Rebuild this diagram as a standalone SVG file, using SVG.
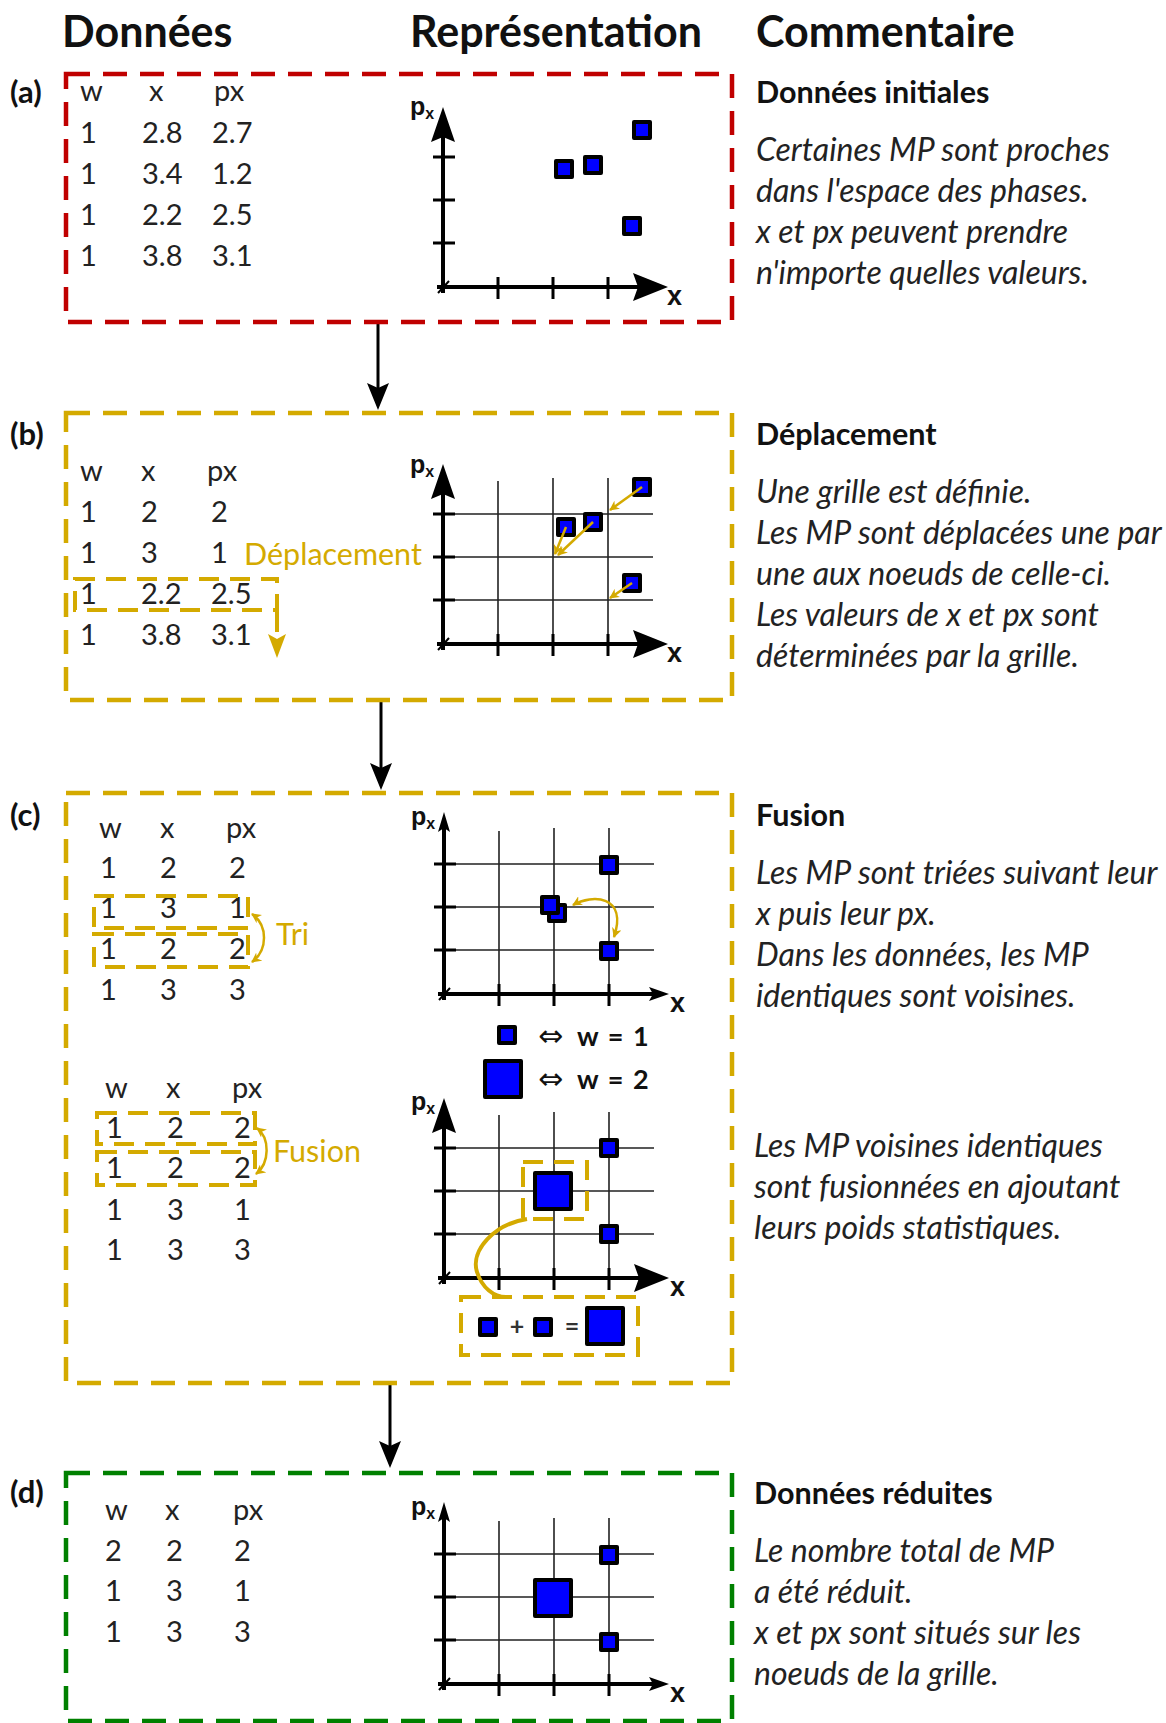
<svg xmlns="http://www.w3.org/2000/svg" xmlns:xlink="http://www.w3.org/1999/xlink" width="1166" height="1723" viewBox="0 0 1166 1723">
<style>
.title{font-family:Lato,"Liberation Sans",sans-serif;font-weight:bold;font-size:43px;fill:#111}
.lab{font-family:Lato,"Liberation Sans",sans-serif;font-weight:bold;font-size:31px;fill:#111}
.tbl{font-family:Lato,"Liberation Sans",sans-serif;font-size:29px;fill:#222}
.hdr{font-family:Lato,"Liberation Sans",sans-serif;font-weight:bold;font-size:30.5px;fill:#111}
.it{font-family:Lato,"Liberation Sans",sans-serif;font-style:italic;font-size:32px;fill:#222}
.ylab{font-family:Lato,"Liberation Sans",sans-serif;font-size:30.5px;fill:#d4aa00}
.ax{font-family:"Liberation Sans",Arial,sans-serif;font-weight:bold;fill:#111}
.leg{font-family:Lato,"Liberation Sans",sans-serif;font-weight:bold;font-size:27px;fill:#111;word-spacing:3px}
.arr{font-family:"DejaVu Sans",sans-serif;font-size:30px;fill:#111}
.op{font-family:Lato,"Liberation Sans",sans-serif;font-weight:bold;font-size:25px;fill:#333}
.box{fill:none;stroke-width:4.5;stroke-dasharray:24 13}
.ybox{fill:none;stroke:#d4aa00;stroke-width:4;stroke-dasharray:20 11}
.mp{fill:#0000ff;stroke:#000;stroke-width:4;stroke-linejoin:round}
.axis{stroke:#000;stroke-width:4;fill:none}
.tick{stroke:#000;stroke-width:3}
.grid{stroke:#222;stroke-width:1.6;fill:none}
.yarr{stroke:#d4aa00;stroke-width:2.5;fill:none}
.conn{stroke:#000;stroke-width:3}
</style>
<defs>
<marker id="yh" viewBox="0 0 10 10" refX="9" refY="5" markerWidth="10" markerHeight="10" markerUnits="userSpaceOnUse" orient="auto-start-reverse">
<path d="M0,0 L10,5 L0,10 L3,5 Z" fill="#d4aa00"/>
</marker>
<g id="axesBig">
<line class="axis" x1="0" y1="6" x2="0" y2="-150"/>
<path d="M0,-180 L-12,-145 L0,-150 L12,-145 Z" fill="#000"/>
<line class="axis" x1="-6" y1="0" x2="195" y2="0"/>
<path d="M225,0 L190,-14 L195,0 L190,14 Z" fill="#000"/>
<line x1="-5" y1="6" x2="6" y2="-6" stroke="#000" stroke-width="2"/>
<path class="tick" d="M-10,-130H12M-10,-87H12M-10,-44H12M55,-10V12M110,-10V12M165,-10V12"/>
</g>
<g id="axesThin">
<line class="axis" x1="0" y1="6" x2="0" y2="-166"/>
<path d="M0,-182 L-6,-162 L0,-166 L6,-162 Z" fill="#000"/>
<line class="axis" x1="-6" y1="0" x2="210" y2="0"/>
<path d="M225,0 L205,-7 L209,0 L205,7 Z" fill="#000"/>
<line x1="-5" y1="6" x2="6" y2="-6" stroke="#000" stroke-width="2"/>
<path class="tick" d="M-10,-130H12M-10,-87H12M-10,-44H12M55,-10V12M110,-10V12M165,-10V12"/>
</g>
<path id="grid" class="grid" d="M-10,-130H210M-10,-87H210M-10,-44H210M55,-163V12M110,-166V12M165,-166V12"/>
<polygon id="ah" points="0,0 -11,-27 0,-22 11,-27" fill="#000"/>
</defs>

<g id="titles">
<text class="title" x="62" y="47">Données</text>
<text class="title" x="410" y="47">Représentation</text>
<text class="title" x="756" y="47">Commentaire</text>
</g>

<g id="connectors">
<line class="conn" x1="378" y1="322" x2="378" y2="390"/>
<use xlink:href="#ah" href="#ah" transform="translate(378,410)"/>
<line class="conn" x1="381" y1="700" x2="381" y2="770"/>
<use xlink:href="#ah" href="#ah" transform="translate(381,790)"/>
<line class="conn" x1="390" y1="1383" x2="390" y2="1448"/>
<use xlink:href="#ah" href="#ah" transform="translate(390,1468)"/>
</g>

<!-- (a) -->
<g id="node-a">
<rect class="box" x="66" y="74" width="666" height="248" stroke="#c00000"/>
<text class="lab" x="10" y="103">(a)</text>
<g class="tbl">
<text x="80" y="101">w</text><text x="149" y="101">x</text><text x="214" y="101">px</text>
<text x="80" y="143">1</text><text x="142" y="143">2.8</text><text x="212" y="143">2.7</text>
<text x="80" y="184">1</text><text x="142" y="184">3.4</text><text x="212" y="184">1.2</text>
<text x="80" y="225">1</text><text x="142" y="225">2.2</text><text x="212" y="225">2.5</text>
<text x="80" y="266">1</text><text x="142" y="266">3.8</text><text x="212" y="266">3.1</text>
</g>
<use xlink:href="#axesBig" href="#axesBig" transform="translate(443,287)"/>
<text class="ax" x="410" y="115" font-size="25">p<tspan font-size="16" dy="4">x</tspan></text>
<text class="ax" x="667" y="305" font-size="27">x</text>
<rect class="mp" x="634" y="122" width="16" height="16"/>
<rect class="mp" x="556" y="161" width="16" height="16"/>
<rect class="mp" x="585" y="157" width="16" height="16"/>
<rect class="mp" x="624" y="218" width="16" height="16"/>
<text class="hdr" x="756" y="103">Données initiales</text>
<text class="it" x="756" y="161">Certaines MP sont proches</text>
<text class="it" x="756" y="202">dans l'espace des phases.</text>
<text class="it" x="756" y="243">x et px peuvent prendre</text>
<text class="it" x="756" y="284">n'importe quelles valeurs.</text>
</g>

<!-- (b) -->
<g id="node-b">
<rect class="box" x="66" y="413" width="666" height="287" stroke="#d4aa00"/>
<text class="lab" x="10" y="445">(b)</text>
<g class="tbl">
<text x="80" y="481">w</text><text x="141" y="481">x</text><text x="207" y="481">px</text>
<text x="80" y="522">1</text><text x="141" y="522">2</text><text x="211" y="522">2</text>
<text x="80" y="563">1</text><text x="141" y="563">3</text><text x="211" y="563">1</text>
<text x="80" y="604">1</text><text x="141" y="604">2.2</text><text x="211" y="604">2.5</text>
<text x="80" y="645">1</text><text x="141" y="645">3.8</text><text x="211" y="645">3.1</text>
</g>
<text class="ylab" x="244" y="565">Déplacement</text>
<rect class="ybox" x="75" y="579" width="202" height="31"/>
<line x1="277" y1="612" x2="277" y2="640" stroke="#d4aa00" stroke-width="4" stroke-dasharray="20 11"/>
<path d="M277,658 L268,634 L277,639 L286,634 Z" fill="#d4aa00"/>
<use xlink:href="#grid" href="#grid" transform="translate(443,644)"/>
<use xlink:href="#axesBig" href="#axesBig" transform="translate(443,644)"/>
<text class="ax" x="410" y="473" font-size="25">p<tspan font-size="16" dy="4">x</tspan></text>
<text class="ax" x="667" y="662" font-size="27">x</text>
<rect class="mp" x="634" y="479" width="16" height="16"/>
<rect class="mp" x="558" y="519" width="16" height="16"/>
<rect class="mp" x="585" y="514" width="16" height="16"/>
<rect class="mp" x="624" y="575" width="16" height="16"/>
<line class="yarr" x1="642" y1="487" x2="610" y2="510" marker-end="url(#yh)"/>
<line class="yarr" x1="566" y1="527" x2="555" y2="554" marker-end="url(#yh)"/>
<line class="yarr" x1="593" y1="522" x2="558" y2="555" marker-end="url(#yh)"/>
<line class="yarr" x1="632" y1="583" x2="610" y2="598" marker-end="url(#yh)"/>
<text class="hdr" x="756" y="445">Déplacement</text>
<text class="it" x="756" y="503">Une grille est définie.</text>
<text class="it" x="756" y="544">Les MP sont déplacées une par</text>
<text class="it" x="756" y="585">une aux noeuds de celle-ci.</text>
<text class="it" x="756" y="626">Les valeurs de x et px sont</text>
<text class="it" x="756" y="667">déterminées par la grille.</text>
</g>

<!-- (c) -->
<g id="node-c">
<rect class="box" x="66" y="793" width="666" height="590" stroke="#d4aa00"/>
<text class="lab" x="10" y="826">(c)</text>
<g class="tbl">
<text x="99" y="838">w</text><text x="160" y="838">x</text><text x="226" y="838">px</text>
<text x="100" y="878">1</text><text x="160" y="878">2</text><text x="229" y="878">2</text>
<text x="100" y="918">1</text><text x="160" y="918">3</text><text x="229" y="918">1</text>
<text x="100" y="959">1</text><text x="160" y="959">2</text><text x="229" y="959">2</text>
<text x="100" y="1000">1</text><text x="160" y="1000">3</text><text x="229" y="1000">3</text>
</g>
<rect class="ybox" x="94" y="896" width="154" height="32"/>
<rect class="ybox" x="94" y="934" width="154" height="33"/>
<path class="yarr" d="M252,914 C268,925 268,950 252,962" marker-start="url(#yh)" marker-end="url(#yh)"/>
<text class="ylab" x="276" y="945">Tri</text>

<use xlink:href="#grid" href="#grid" transform="translate(444,994)"/>
<use xlink:href="#axesThin" href="#axesThin" transform="translate(444,994)"/>
<text class="ax" x="411" y="825" font-size="25">p<tspan font-size="16" dy="4">x</tspan></text>
<text class="ax" x="670" y="1012" font-size="27">x</text>
<rect class="mp" x="601" y="857" width="16" height="16"/>
<rect class="mp" x="601" y="943" width="16" height="16"/>
<rect class="mp" x="549" y="905" width="16" height="16"/>
<rect class="mp" x="542" y="897" width="16" height="16"/>
<path class="yarr" d="M573,905 C592,894 628,895 614,937" marker-start="url(#yh)" marker-end="url(#yh)"/>

<rect class="mp" x="499" y="1027" width="16" height="16"/>
<text class="arr" x="538" y="1046">⇔</text>
<text class="leg" x="577" y="1046">w = 1</text>
<rect class="mp" x="485" y="1061" width="36" height="36"/>
<text class="arr" x="538" y="1089">⇔</text>
<text class="leg" x="577" y="1089">w = 2</text>

<g class="tbl">
<text x="105" y="1098">w</text><text x="166" y="1098">x</text><text x="232" y="1098">px</text>
<text x="106" y="1138">1</text><text x="167" y="1138">2</text><text x="234" y="1138">2</text>
<text x="106" y="1178">1</text><text x="167" y="1178">2</text><text x="234" y="1178">2</text>
<text x="106" y="1220">1</text><text x="167" y="1220">3</text><text x="234" y="1220">1</text>
<text x="106" y="1260">1</text><text x="167" y="1260">3</text><text x="234" y="1260">3</text>
</g>
<rect class="ybox" x="97" y="1113" width="158" height="31"/>
<rect class="ybox" x="97" y="1152" width="158" height="33"/>
<path class="yarr" d="M257,1128 C270,1138 270,1163 256,1174" marker-start="url(#yh)" marker-end="url(#yh)"/>
<text class="ylab" x="273" y="1162">Fusion</text>

<use xlink:href="#grid" href="#grid" transform="translate(444,1278)"/>
<use xlink:href="#axesBig" href="#axesBig" transform="translate(444,1278)"/>
<text class="ax" x="411" y="1110" font-size="25">p<tspan font-size="16" dy="4">x</tspan></text>
<text class="ax" x="670" y="1296" font-size="27">x</text>
<rect class="mp" x="601" y="1140" width="16" height="16"/>
<rect class="mp" x="601" y="1226" width="16" height="16"/>
<rect class="mp" x="535" y="1173" width="36" height="36"/>
<rect class="ybox" x="523" y="1162" width="64" height="57"/>
<path d="M527,1219 C495,1224 470,1250 477,1272 C482,1288 494,1297 506,1297" fill="none" stroke="#d4aa00" stroke-width="4"/>
<rect class="ybox" x="461" y="1297" width="177" height="58"/>
<rect class="mp" x="480" y="1319" width="16" height="16"/>
<text class="op" x="517" y="1335" text-anchor="middle">+</text>
<rect class="mp" x="535" y="1319" width="16" height="16"/>
<text class="op" x="572" y="1335" text-anchor="middle">=</text>
<rect class="mp" x="587" y="1308" width="36" height="36"/>

<text class="hdr" x="756" y="826">Fusion</text>
<text class="it" x="756" y="884">Les MP sont triées suivant leur</text>
<text class="it" x="756" y="925">x puis leur px.</text>
<text class="it" x="756" y="966">Dans les données, les MP</text>
<text class="it" x="756" y="1007">identiques sont voisines.</text>
<text class="it" x="754" y="1157">Les MP voisines identiques</text>
<text class="it" x="754" y="1198">sont fusionnées en ajoutant</text>
<text class="it" x="754" y="1239">leurs poids statistiques.</text>
</g>

<!-- (d) -->
<g id="node-d">
<rect class="box" x="66" y="1473" width="666" height="248" stroke="#008000"/>
<text class="lab" x="10" y="1503">(d)</text>
<g class="tbl">
<text x="105" y="1520">w</text><text x="165" y="1520">x</text><text x="233" y="1520">px</text>
<text x="105" y="1561">2</text><text x="166" y="1561">2</text><text x="234" y="1561">2</text>
<text x="105" y="1601">1</text><text x="166" y="1601">3</text><text x="234" y="1601">1</text>
<text x="105" y="1642">1</text><text x="166" y="1642">3</text><text x="234" y="1642">3</text>
</g>
<use xlink:href="#grid" href="#grid" transform="translate(444,1684)"/>
<use xlink:href="#axesThin" href="#axesThin" transform="translate(444,1684)"/>
<text class="ax" x="411" y="1515" font-size="25">p<tspan font-size="16" dy="4">x</tspan></text>
<text class="ax" x="670" y="1702" font-size="27">x</text>
<rect class="mp" x="601" y="1547" width="16" height="16"/>
<rect class="mp" x="601" y="1634" width="16" height="16"/>
<rect class="mp" x="535" y="1580" width="36" height="36"/>
<text class="hdr" x="754" y="1504">Données réduites</text>
<text class="it" x="754" y="1562">Le nombre total de MP</text>
<text class="it" x="754" y="1603">a été réduit.</text>
<text class="it" x="754" y="1644">x et px sont situés sur les</text>
<text class="it" x="754" y="1685">noeuds de la grille.</text>
</g>
</svg>
